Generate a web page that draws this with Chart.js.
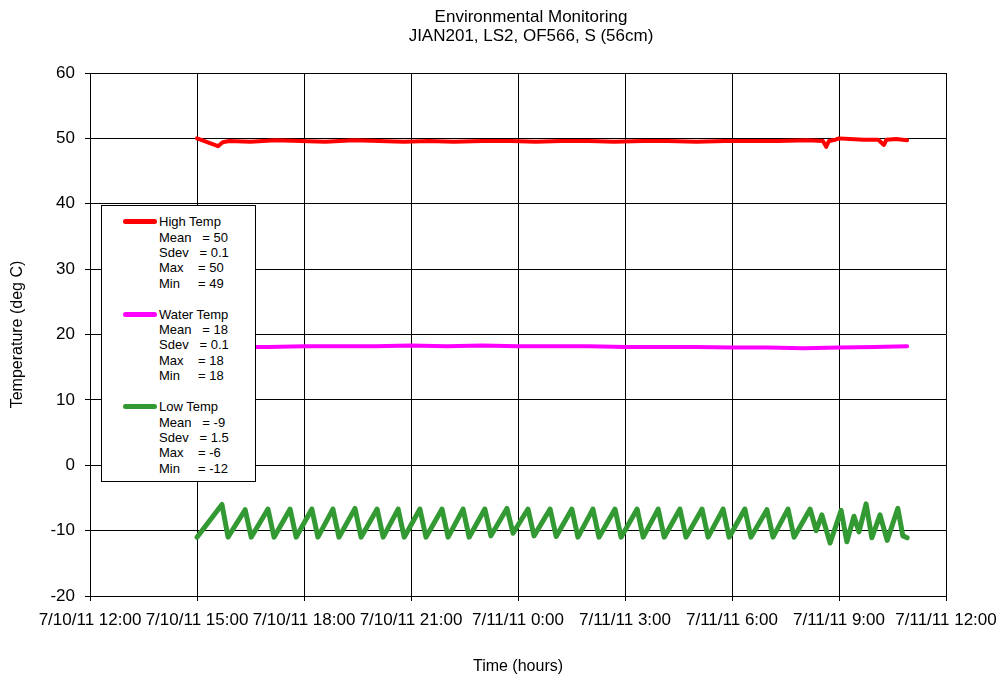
<!DOCTYPE html>
<html>
<head>
<meta charset="utf-8">
<title>Environmental Monitoring</title>
<script src="https://cdn.jsdelivr.net/npm/chart.js"></script>
<style>
body{margin:0;background:#fff;font-family:"Liberation Sans",Arial,sans-serif;color:#000;}
#wrap{position:relative;width:1003px;height:679px;}
#title{position:absolute;left:331px;width:400px;top:8px;text-align:center;font-size:17px;line-height:18.5px;}
#legend{position:absolute;left:101px;top:205px;width:153px;height:275px;border:1px solid #000;background:#fff;font-size:13px;}
.grp{position:absolute;left:57px;white-space:pre;line-height:15.3px;}
.swatch{position:absolute;left:-36px;top:5px;width:34px;height:5px;border-radius:3px;}
</style>
</head>
<body>
<div id="wrap">
<canvas id="chart" width="1003" height="679"></canvas>
<div id="title">Environmental Monitoring<br>JIAN201, LS2, OF566, S (56cm)</div>
<div id="legend"></div>
</div>
<script>

// hours after 7/10/11 12:00
let xLabels=["7/10/11 12:00","7/10/11 15:00","7/10/11 18:00","7/10/11 21:00","7/11/11 0:00","7/11/11 3:00","7/11/11 6:00","7/11/11 9:00","7/11/11 12:00"];

let highTime=[3.00,3.59,3.72,3.9,4.5,5.2,5.9,6.6,7.4,8.1,8.8,9.5,10.2,11.0,11.8,12.5,13.2,14.0,14.7,15.5,16.2,17.0,17.8,18.5,19.3,20.1,20.55,20.64,20.72,20.9,21.0,21.3,21.7,22.1,22.26,22.33,22.6,22.91];
let highTemp=[50.0,48.8,49.4,49.6,49.5,49.7,49.6,49.5,49.7,49.6,49.5,49.6,49.5,49.6,49.6,49.5,49.6,49.6,49.5,49.6,49.6,49.5,49.6,49.6,49.6,49.7,49.6,48.7,49.6,49.8,50.0,49.9,49.8,49.8,49.0,49.8,49.9,49.7];

let waterTime=[3.0,4.0,5.0,6.0,7.0,8.0,9.0,10.0,11.0,12.0,13.0,14.0,15.0,16.0,17.0,18.0,19.0,20.0,21.0,22.0,22.91];
let waterTemp=[18.0,18.1,18.1,18.2,18.2,18.2,18.3,18.2,18.3,18.2,18.2,18.2,18.1,18.1,18.1,18.0,18.0,17.9,18.0,18.1,18.2];

let lowTime=[3.00,3.70,3.87,4.35,4.52,4.99,5.16,5.61,5.78,6.22,6.39,6.81,6.98,7.43,7.60,8.05,8.22,8.64,8.81,9.25,9.42,9.87,10.04,10.46,10.63,11.07,11.24,11.69,11.86,12.28,12.45,12.90,13.07,13.51,13.68,14.10,14.27,14.72,14.89,15.34,15.51,15.93,16.10,16.54,16.71,17.16,17.33,17.75,17.92,18.36,18.53,18.98,19.15,19.57,19.74,20.19,20.36,20.52,20.75,21.06,21.22,21.42,21.56,21.76,21.92,22.15,22.35,22.65,22.79,22.91];
let lowTemp=[-11.0,-6.0,-11.0,-6.8,-11.0,-6.7,-11.0,-6.7,-11.0,-6.7,-11.0,-6.7,-11.0,-6.6,-11.0,-6.7,-11.0,-6.7,-11.0,-6.7,-11.0,-6.7,-11.0,-6.7,-11.0,-6.7,-10.8,-6.6,-10.4,-6.7,-10.8,-6.7,-10.9,-6.7,-11.0,-6.7,-11.0,-6.7,-11.0,-6.7,-11.0,-6.7,-11.0,-6.7,-11.0,-6.7,-11.0,-6.7,-11.0,-6.7,-11.0,-6.8,-11.0,-6.7,-11.0,-6.7,-10.0,-7.6,-11.9,-6.9,-11.7,-7.8,-10.2,-5.9,-11.1,-7.6,-11.5,-6.6,-10.8,-11.1];

let seriesNames=["High Temp","Water Temp","Low Temp"];
let seriesColors=["#ff0000","#ff00ff","#339933"];
let statMean=["50","18","-9"];
let statSdev=["0.1","0.1","1.5"];
let statMax=["50","18","-6"];
let statMin=["49","18","-12"];

function pts(t,v){
return t.map((x,i)=>({x:x,y:v[i]}));
}

let legend=document.getElementById("legend");
seriesNames.forEach((n,i)=>{
let g=document.createElement("div");
g.className="grp";
g.style.top=(8.4+i*92.5)+"px";
g.textContent=n+"\nMean   = "+statMean[i]+"\nSdev   = "+statSdev[i]+"\nMax    = "+statMax[i]+"\nMin     = "+statMin[i];
let s=document.createElement("div");
s.className="swatch";
s.style.background=seriesColors[i];
g.appendChild(s);
legend.appendChild(g);
});

new Chart(document.getElementById("chart"),{
type:'line',
data:{
datasets:[
{label:seriesNames[0],data:pts(highTime,highTemp),borderColor:seriesColors[0],borderWidth:4},
{label:seriesNames[1],data:pts(waterTime,waterTemp),borderColor:seriesColors[1],borderWidth:4},
{label:seriesNames[2],data:pts(lowTime,lowTemp),borderColor:seriesColors[2],borderWidth:5}
]
},
options:{
responsive:false,
animation:false,
layout:{padding:{top:73,right:57,left:0,bottom:0}},
plugins:{legend:{display:false},tooltip:{enabled:false}},
elements:{point:{radius:0},line:{tension:0,borderCapStyle:'round',borderJoinStyle:'round'}},
scales:{
x:{
type:'linear',min:0,max:24,
ticks:{stepSize:3,autoSkip:false,maxRotation:0,padding:9,color:'#000',font:{size:17,family:'"Liberation Sans", Arial'},
callback:v=>xLabels[Math.round(v/3)]},
grid:{color:'#000',tickLength:5},
border:{color:'#000'},
title:{display:true,text:'Time (hours)',color:'#000',font:{size:16,family:'"Liberation Sans", Arial'},padding:{top:0,bottom:3}},
afterFit:s=>{s.height=83;s.paddingRight=0;s.paddingLeft=0;}
},
y:{
min:-20,max:60,
ticks:{stepSize:10,padding:10,color:'#000',font:{size:17,family:'"Liberation Sans", Arial'}},
grid:{color:'#000',tickLength:5},
border:{color:'#000'},
title:{display:true,text:'Temperature (deg C)',color:'#000',font:{size:16,family:'"Liberation Sans", Arial'},padding:{top:8,bottom:0}},
afterFit:s=>{s.width=90;}
}
}
}
});

</script>
</body>
</html>
